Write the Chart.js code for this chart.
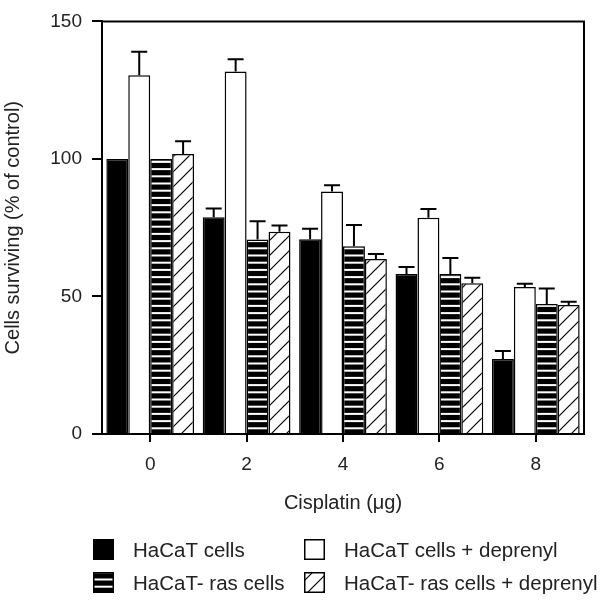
<!DOCTYPE html>
<html>
<head>
<meta charset="utf-8">
<script src="https://cdn.jsdelivr.net/npm/chart.js@4.4.0/dist/chart.umd.min.js"></script>
<style>
  body { margin: 0; background: #fff; }
  #wrap { width: 600px; height: 602px; }
</style>
</head>
<body>
<div id="wrap"><canvas id="myChart" width="600" height="602"></canvas></div>
<script>
// Data
const doses = ['0', '2', '4', '6', '8'];
const seriesLabels = ['HaCaT cells', 'HaCaT cells + deprenyl', 'HaCaT- ras cells', 'HaCaT- ras cells + deprenyl'];
const hacat = [100, 78.8, 70.8, 58.2, 27.3];
const hacatErr = [0, 3.2, 3.8, 2.5, 2.9];
const hacatDep = [130.4, 131.8, 88.2, 78.6, 53.4];
const hacatDepErr = [8.6, 4.4, 2.2, 3.2, 1.2];
const ras = [100, 70.7, 68.3, 58.2, 47.3];
const rasErr = [0, 6.6, 7.7, 5.8, 5.6];
const rasDep = [101.8, 73.5, 63.6, 54.8, 46.9];
const rasDepErr = [4.6, 2.3, 1.8, 2.0, 1.2];
const yTicks = [0, 50, 100, 150];

const TEXT = '#222';
const FONT = '"Liberation Sans", Arial, sans-serif';

// fill patterns
function stripePattern() {
  const c = document.createElement('canvas');
  c.width = 8; c.height = 36;
  const g = c.getContext('2d');
  g.fillStyle = '#000';
  g.fillRect(0, 0, 8, 36);
  g.fillStyle = '#fff';
  for (let i = 0; i < 5; i++) {
    g.fillRect(0, i * 7.2 + 2.5, 8, 2);
  }
  return g.createPattern(c, 'repeat');
}

function hatchPattern() {
  const c = document.createElement('canvas');
  c.width = 15; c.height = 15;
  const g = c.getContext('2d');
  g.fillStyle = '#fff';
  g.fillRect(0, 0, 15, 15);
  g.strokeStyle = '#000';
  g.lineWidth = 1.2;
  g.beginPath();
  g.moveTo(-1, 16); g.lineTo(16, -1);
  g.moveTo(-2, 2); g.lineTo(2, -2);
  g.moveTo(13, 17); g.lineTo(17, 13);
  g.stroke();
  return g.createPattern(c, 'repeat');
}

const fills = ['#000', '#fff', stripePattern(), hatchPattern()];
const values = [hacat, hacatDep, ras, rasDep];
const errors = [hacatErr, hacatDepErr, rasErr, rasDepErr];

// Error bars (upper half only), frame and legend
const extras = {
  id: 'extras',
  afterDatasetsDraw(chart) {
    const ctx = chart.ctx;
    const y = chart.scales.y;
    ctx.save();
    ctx.strokeStyle = '#000';
    ctx.lineWidth = 2;
    chart.data.datasets.forEach((ds, i) => {
      const meta = chart.getDatasetMeta(i);
      meta.data.forEach((bar, j) => {
        const err = errors[i][j];
        if (!err) return;
        const y0 = y.getPixelForValue(values[i][j]);
        const y1 = y.getPixelForValue(values[i][j] + err);
        ctx.beginPath();
        ctx.moveTo(bar.x, y0);
        ctx.lineTo(bar.x, y1);
        ctx.moveTo(bar.x - 8, y1);
        ctx.lineTo(bar.x + 8, y1);
        ctx.stroke();
      });
    });
    const a = chart.chartArea;
    ctx.beginPath();
    ctx.moveTo(a.left, a.top);
    ctx.lineTo(a.right, a.top);
    ctx.lineTo(a.right, a.bottom);
    ctx.stroke();
    ctx.restore();
  },
  afterDraw(chart) {
    const ctx = chart.ctx;
    const cols = [93, 304];
    const rows = [539, 572];
    ctx.save();
    ctx.font = '20.5px ' + FONT;
    ctx.textBaseline = 'alphabetic';
    chart.data.datasets.forEach((ds, i) => {
      const bx = cols[i % 2];
      const by = rows[Math.floor(i / 2)];
      ctx.fillStyle = ds.backgroundColor;
      ctx.fillRect(bx, by, 21, 21);
      ctx.strokeStyle = '#000';
      ctx.lineWidth = 1.5;
      ctx.strokeRect(bx + 0.75, by + 0.75, 19.5, 19.5);
      ctx.fillStyle = TEXT;
      ctx.fillText(ds.label, bx + 40, by + 18);
    });
    ctx.restore();
  }
};

const ctx = document.getElementById('myChart').getContext('2d');
Chart.defaults.font.family = FONT;
Chart.defaults.font.size = 19;
Chart.defaults.color = TEXT;

const myChart = new Chart(ctx, {
  type: 'bar',
  data: {
    labels: doses,
    datasets: seriesLabels.map((label, i) => ({
      label: label,
      data: values[i],
      backgroundColor: fills[i],
      borderColor: '#000',
      borderWidth: 1.5,
      categoryPercentage: 0.91,
      barPercentage: 1.0
    }))
  },
  options: {
    responsive: false,
    animation: false,
    layout: { padding: { left: 0, top: 14, right: 16, bottom: 68 } },
    plugins: {
      legend: { display: false },
      tooltip: { enabled: false }
    },
    scales: {
      x: {
        grid: { offset: false, drawOnChartArea: false, tickLength: 8, color: '#000', lineWidth: 2 },
        border: { color: '#000', width: 2 },
        ticks: { padding: 11, color: TEXT },
        title: { display: true, text: 'Cisplatin (μg)', color: TEXT, font: { size: 20 }, padding: { top: 0, bottom: 19 } },
        afterFit(scale) { scale.height = 100; }
      },
      y: {
        min: 0,
        max: 150,
        afterBuildTicks(scale) { scale.ticks = yTicks.map(v => ({ value: v })); },
        grid: { drawOnChartArea: false, tickLength: 10, color: '#000', lineWidth: 2 },
        border: { color: '#000', width: 2 },
        ticks: { padding: 10, color: TEXT },
        title: { display: true, text: 'Cells surviving (% of control)', color: TEXT, font: { size: 20 }, padding: { top: 1, bottom: 0 } },
        afterFit(scale) { scale.width = 102; }
      }
    }
  },
  plugins: [extras]
});
</script>
</body>
</html>
